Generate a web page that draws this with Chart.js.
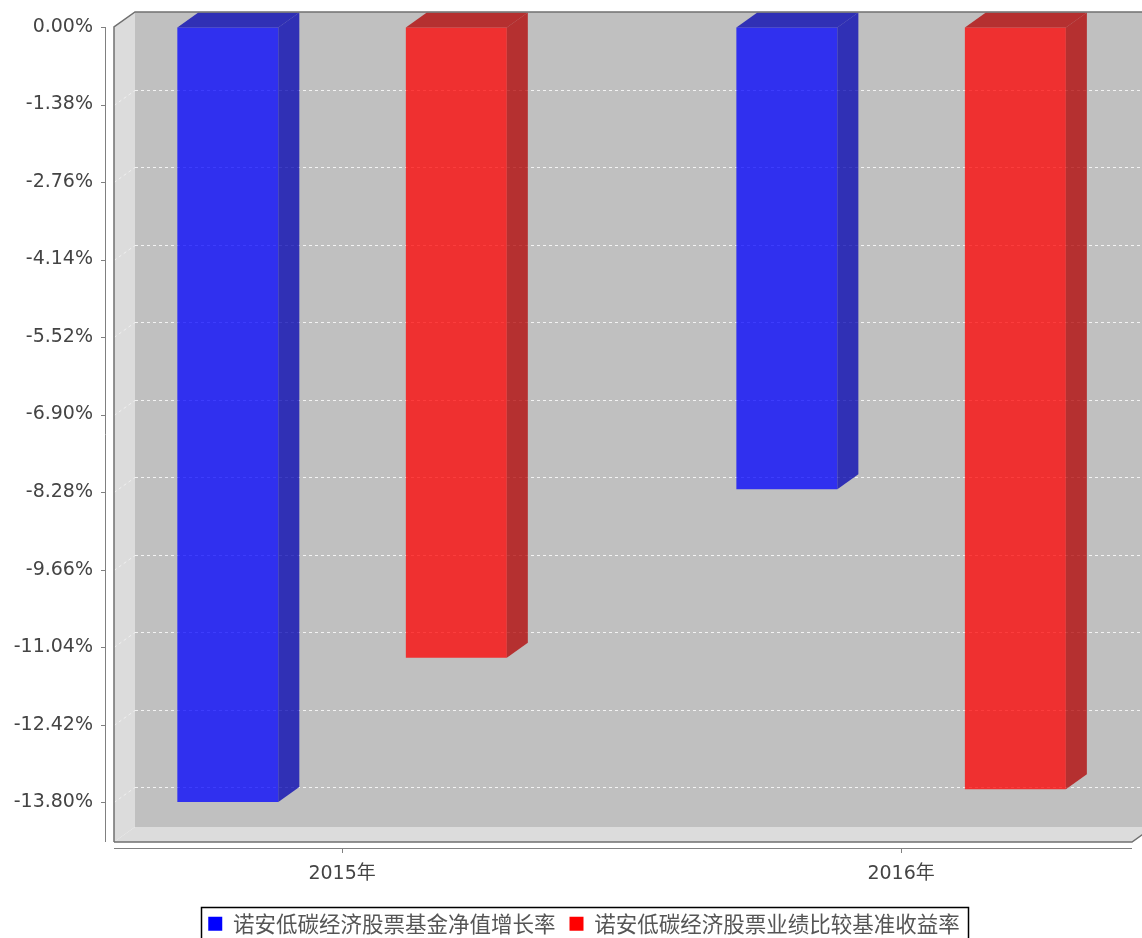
<!DOCTYPE html>
<html><head><meta charset="utf-8">
<script src="https://cdn.jsdelivr.net/npm/chart.js@4.4.1/dist/chart.umd.min.js"></script>
<style>html,body{margin:0;padding:0;background:#fff;} canvas{display:block;}</style>
</head><body>
<canvas id="c" width="1142" height="938"></canvas>
<script>
// ---- data ----
const categories = ['2015年', '2016年'];
const seriesNames = ['诺安低碳经济股票基金净值增长率', '诺安低碳经济股票业绩比较基准收益率'];
const fundGrowth = [-13.80, -8.23];
const benchmarkReturn = [-11.23, -13.57];
const yTicks = [0, -1.38, -2.76, -4.14, -5.52, -6.90, -8.28, -9.66, -11.04, -12.42, -13.80];
const yMin = -14.51, yMax = 0;
const xMin = -0.408, xMax = 1.413;

// ---- style ----
const DX = 21, DY = 15;
const frontColors = ['rgba(0,0,255,0.75)', 'rgba(255,0,0,0.75)'];
const sideColors = ['rgba(0,0,178,0.75)', 'rgba(178,0,0,0.75)'];
const legendColors = ['#0000FF', '#FF0000'];
const tickFont = {family: '"DejaVu Sans", "Noto Sans CJK SC", sans-serif', size: 19};

function poly(ctx, pts) {
  ctx.beginPath();
  pts.forEach((p, i) => i ? ctx.lineTo(p[0], p[1]) : ctx.moveTo(p[0], p[1]));
  ctx.closePath();
}

const threeD = {
  id: 'threeD',
  afterLayout(chart) {
    chart.legend.left += 26;
  },
  beforeDatasetsDraw(chart) {
    const {ctx, chartArea: a, scales: {y}} = chart;
    const L = a.left, R = a.right, T = a.top, B = a.bottom;
    ctx.save();
    ctx.fillStyle = '#C0C0C0';
    ctx.fillRect(L + DX, T - DY, R - L, B - T);
    ctx.fillStyle = '#DCDCDC';
    poly(ctx, [[L, T], [L + DX, T - DY], [L + DX, B - DY], [L, B]]); ctx.fill();
    poly(ctx, [[L, B], [L + DX, B - DY], [R + DX, B - DY], [R, B]]); ctx.fill();
    ctx.lineWidth = 1;
    ctx.setLineDash([3, 3]);
    y.ticks.forEach(t => {
      if (t.value === 0) return;
      const py = Math.round(y.getPixelForValue(t.value)) + 0.5;
      ctx.strokeStyle = 'rgba(255,255,255,0.8)';
      ctx.beginPath(); ctx.moveTo(L + DX, py - DY); ctx.lineTo(R + DX, py - DY); ctx.stroke();
      ctx.strokeStyle = 'rgba(255,255,255,0.55)';
      ctx.beginPath(); ctx.moveTo(L, py); ctx.lineTo(L + DX, py - DY); ctx.stroke();
    });
    ctx.restore();
  },
  afterDatasetsDraw(chart) {
    const {ctx, chartArea: a, scales: {x, y}} = chart;
    const L = a.left, R = a.right, T = a.top, B = a.bottom;
    ctx.save();
    chart.data.datasets.forEach((ds, i) => {
      chart.getDatasetMeta(i).data.forEach(el => {
        const p = el.getProps(['x', 'y', 'base', 'width'], true);
        const xl = p.x - p.width / 2, xr = p.x + p.width / 2;
        const top = Math.min(p.y, p.base), bot = Math.max(p.y, p.base);
        ctx.fillStyle = sideColors[i];
        poly(ctx, [[xr, top], [xr + DX, top - DY], [xr + DX, bot - DY], [xr, bot]]); ctx.fill();
        poly(ctx, [[xl, top], [xl + DX, top - DY], [xr + DX, top - DY], [xr, top]]); ctx.fill();
      });
    });
    ctx.strokeStyle = '#707070'; ctx.lineWidth = 1.5;
    ctx.beginPath();
    ctx.moveTo(L, B); ctx.lineTo(L, T); ctx.lineTo(L + DX, T - DY); ctx.lineTo(R + DX, T - DY);
    ctx.moveTo(L, B); ctx.lineTo(R, B); ctx.lineTo(R + DX, B - DY);
    ctx.stroke();
    ctx.strokeStyle = '#808080'; ctx.lineWidth = 1;
    ctx.beginPath();
    ctx.moveTo(L - 8.5, T); ctx.lineTo(L - 8.5, B);
    y.ticks.forEach(t => {
      const py = Math.round(y.getPixelForValue(t.value)) + 0.5;
      ctx.moveTo(L - 13, py); ctx.lineTo(L - 8.5, py);
    });
    ctx.moveTo(L, B + 6.5); ctx.lineTo(R, B + 6.5);
    x.ticks.forEach(t => {
      const px = Math.round(x.getPixelForValue(t.value)) + 0.5;
      ctx.moveTo(px, B + 6.5); ctx.lineTo(px, B + 11);
    });
    ctx.stroke();
    ctx.restore();
  },
  afterDraw(chart) {
    const hb = chart.legend.legendHitBoxes;
    if (!hb || !hb.length) return;
    const first = hb[0], last = hb[hb.length - 1];
    const {ctx} = chart;
    ctx.save();
    ctx.strokeStyle = '#000'; ctx.lineWidth = 1.5;
    const left = Math.round(first.left - 7) + 0.5;
    const right = Math.round(last.left + last.width + 8) + 0.5;
    const top = Math.round(first.top - 6.5) + 0.5;
    ctx.strokeRect(left, top, right - left, 60);
    ctx.restore();
  }
};

const PAD_BOTTOM = -6.5;
const chart = new Chart(document.getElementById('c'), {
  type: 'bar',
  data: {
    datasets: [
      {label: seriesNames[0], data: categories.map((c, i) => ({x: i, y: fundGrowth[i]})), backgroundColor: frontColors[0], borderWidth: 0},
      {label: seriesNames[1], data: categories.map((c, i) => ({x: i, y: benchmarkReturn[i]})), backgroundColor: frontColors[1], borderWidth: 0}
    ]
  },
  options: {
    responsive: false,
    devicePixelRatio: 1,
    animation: false,
    events: [],
    categoryPercentage: 0.8175,
    barPercentage: 0.442,
    layout: {padding: {top: 27, left: 0, right: 0, bottom: PAD_BOTTOM}},
    plugins: {
      tooltip: {enabled: false},
      legend: {
        position: 'bottom',
        labels: {
          boxWidth: 14, boxHeight: 14, padding: 14, color: '#555',
          font: {family: '"Noto Sans CJK SC", sans-serif', size: 21.5},
          generateLabels: (ch) => ch.data.datasets.map((ds, i) => ({
            text: ds.label, fillStyle: legendColors[i], strokeStyle: legendColors[i], lineWidth: 0, hidden: false, datasetIndex: i, fontColor: '#555'
          }))
        }
      }
    },
    scales: {
      x: {
        type: 'linear', position: 'bottom', min: xMin, max: xMax, offset: false, bounds: 'data',
        grid: {display: false, drawTicks: false}, border: {display: false},
        ticks: {padding: 21, color: '#444', font: tickFont, maxRotation: 0, callback: v => categories[v]},
        afterBuildTicks: s => { s.ticks = categories.map((c, i) => ({value: i})); },
        afterFit: s => { s.height = 938 - PAD_BOTTOM - s.chart.legend.height - 842; }
      },
      y: {
        type: 'linear', position: 'left', min: yMin, max: yMax, bounds: 'data',
        grid: {display: true, drawOnChartArea: false, drawTicks: true, tickLength: 21, color: 'rgba(0,0,0,0)'},
        border: {display: false},
        ticks: {padding: 0, color: '#444', font: tickFont, callback: v => v.toFixed(2) + '%'},
        afterBuildTicks: s => { s.ticks = yTicks.map(v => ({value: v})); },
        afterFit: s => { s.width = 114; }
      },
      yRight: {
        type: 'linear', position: 'right', display: true,
        grid: {display: false, drawTicks: false}, border: {display: false},
        ticks: {display: false},
        afterFit: s => { s.width = 10; }
      }
    }
  },
  plugins: [threeD]
});
</script>
</body></html>
